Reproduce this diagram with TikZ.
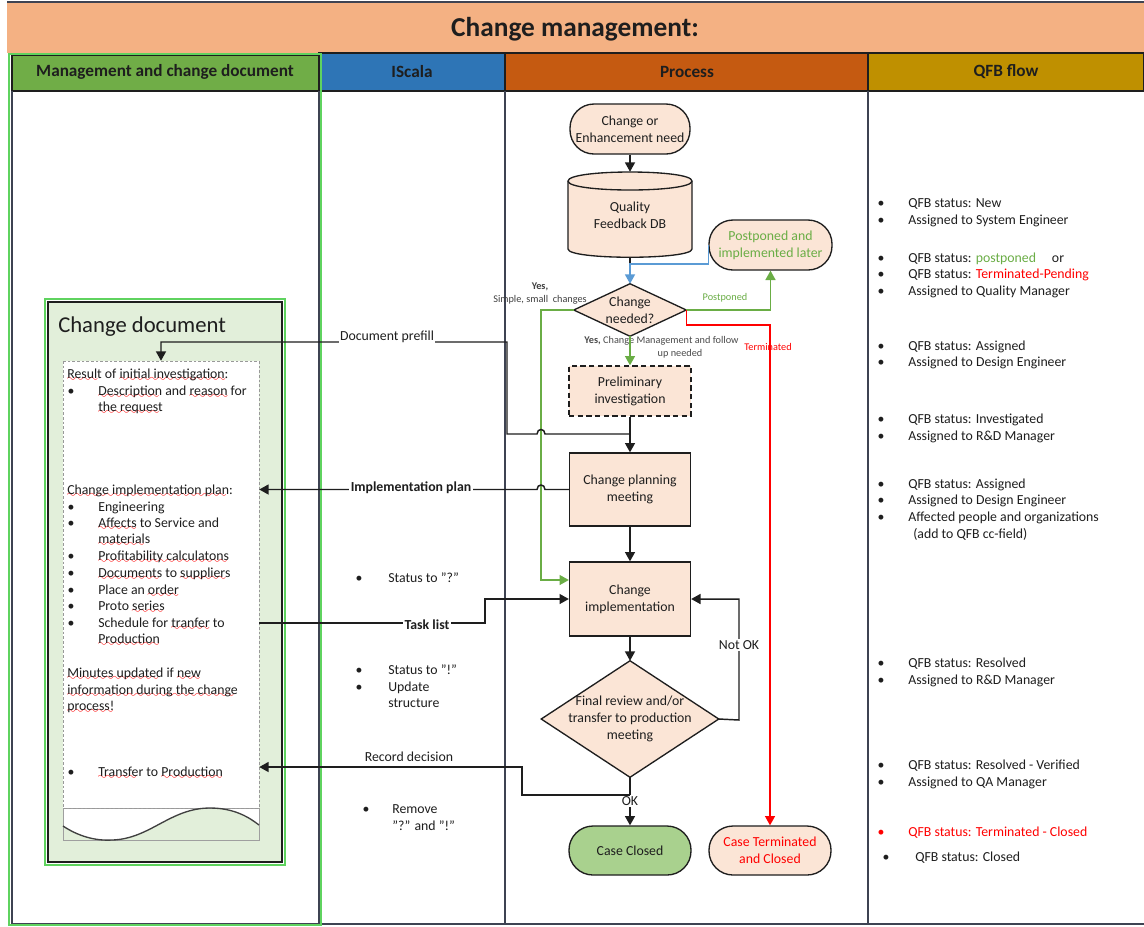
\documentclass[tikz,border=0pt]{standalone}
\usepackage{fontspec}
\setmainfont{Carlito}
\usetikzlibrary{arrows.meta}

\definecolor{salmon}{HTML}{F4B183}
\definecolor{hgreen}{HTML}{70AD47}
\definecolor{hblue}{HTML}{2E75B6}
\definecolor{horange}{HTML}{C55A11}
\definecolor{hgold}{HTML}{BF9000}
\definecolor{peach}{HTML}{FBE5D6}
\definecolor{okgreen}{HTML}{A9D18E}
\definecolor{lgreen}{HTML}{6AAD45}
\definecolor{bgreen}{HTML}{5FD35F}
\definecolor{docgreen}{HTML}{E2EFDA}
\definecolor{lblue}{HTML}{5B9BD5}
\definecolor{colline}{HTML}{3E4352}
\definecolor{ink}{HTML}{1E1E1E}

% red spell-check wave under a word
\font\wavefont=lasy8
\newcommand\sq[1]{\setbox0\hbox{#1}\leavevmode\rlap{\textcolor{red}{\lower2.8pt\hbox to\wd0{\leaders\hbox{\wavefont\char58}\hfill}}}\box0\relax}

\pgfdeclarelayer{bg}
\pgfdeclarelayer{shp}
\pgfsetlayers{bg,shp,main}

% bullet and text line helpers (pixel coordinates, y = baseline)
\newcommand\bulletat[3]{\node[txt,anchor=base] (#1) at (#2,#3) {\textbullet};}
\newcommand\textat[4]{\node[txt,anchor=base west] (#1) at (#2,#3) {#4};}

\begin{document}
\begin{tikzpicture}[x=0.75pt,y=-0.75pt,
  txt/.style={font=\fontsize{10.35}{12.75}\selectfont, text=ink, inner sep=0pt},
  small/.style={font=\fontsize{7.7}{9}\selectfont, inner sep=0pt},
  hdr/.style={font=\bfseries\fontsize{12.9}{15}\selectfont, text=ink},
  proc/.style={draw=ink, fill=peach, line width=1pt, align=center, inner sep=0pt,
    font=\fontsize{10.35}{12.75}\selectfont, text=ink},
  stadium/.style={proc, rounded corners=18pt},
  lbl/.style={font=\fontsize{10.35}{12.75}\selectfont, text=ink, fill=white, inner sep=1pt},
  conn/.style={draw=ink, line width=1.1pt},
  arr/.style={conn, -{Triangle[length=7pt,width=7.5pt]}},
  garr/.style={draw=lgreen, line width=1.1pt, -{Triangle[length=7pt,width=7.5pt]}},
  rarr/.style={draw=red, line width=1.1pt, -{Triangle[length=7pt,width=7.5pt]}},
  barr/.style={draw=lblue, line width=1.1pt, -{Triangle[length=7pt,width=7.5pt]}},
]
\useasboundingbox (0,0) rectangle (1144,926);

% ---------- swimlane frame ----------
\begin{pgfonlayer}{bg}
  \fill[white] (0,0) rectangle (1144,926);
  \fill[salmon] (7,3) rectangle (1144,53);
  \draw[colline, line width=1.5pt] (7,2) -- (1144,2);
  \draw[ink, line width=0.8pt, fill=hgreen] (12,55) rectangle (319,91);
  \draw[ink, line width=0.8pt, fill=hblue] (319,53) rectangle (505,91);
  \draw[ink, line width=0.8pt, fill=horange] (505,53) rectangle (868,91);
  \draw[ink, line width=0.8pt, fill=hgold] (868,53) rectangle (1144,91);
  \draw[colline, line width=1pt] (12,91) -- (12,924) -- (1144,924);
  \draw[colline, line width=1pt] (319,91) -- (319,924);
  \draw[colline, line width=1pt] (505,91) -- (505,924);
  \draw[colline, line width=1pt] (868,91) -- (868,924);
  \draw[bgreen, line width=1.6pt] (9,54) rectangle (321,925);
\end{pgfonlayer}

\node (title) [font=\bfseries\fontsize{20.5}{24}\selectfont, text=ink] at (575,29) {Change management:};
\node (hmgmt) [hdr] at (165,72) {Management and change document};
\node (hisc) [hdr] at (412,72) {IScala};
\node (hproc) [hdr] at (687,72) {Process};
\node (hqfb) [hdr] at (1006,72) {QFB flow};

% ---------- change document ----------
\node (docframe) [draw=ink, line width=1.2pt, fill=docgreen, minimum width=175.5pt,
  minimum height=420pt, inner sep=0pt] at (165,582) {};
\draw[bgreen, line width=1.3pt] ([shift={(-1.6pt,1.6pt)}]docframe.north west)
  rectangle ([shift={(1.6pt,-1.6pt)}]docframe.south east);
\node (doctitle) [font=\fontsize{17}{20}\selectfont, text=ink, anchor=base west, inner sep=0pt]
  at (58,332) {Change document};

\fill[white] (63,361) -- (259,361) -- (259,825)
  .. controls (250,818) and (235,808) .. (210,808)
  .. controls (170,808) and (150,839) .. (112,840)
  .. controls (95,841) and (78,836) .. (63,826) -- cycle;
\draw[gray!75, line width=0.6pt] (63,808) rectangle (259,840);
\draw[gray!80, line width=0.6pt, dash pattern=on 2pt off 1.5pt] (63,361) rectangle (259,808);
\draw[ink!85, line width=1pt] (63,826) .. controls (78,836) and (95,841) .. (112,840)
  .. controls (150,839) and (170,808) .. (210,808)
  .. controls (235,808) and (250,818) .. (259,825);
\node (doc) [minimum width=147pt, minimum height=359.25pt, inner sep=0pt] at (161,600.5) {};

\textat{d1}{67}{378}{\sq{Result} of \sq{initial investigation:}}
\bulletat{d2b}{71}{395}\textat{d2}{98}{395}{\sq{Description} and \sq{reason} for}
\textat{d3}{98}{411}{\sq{the request}}
\textat{d4}{67}{494}{\sq{Change implementation plan:}}
\bulletat{d5b}{71}{511}\textat{d5}{98}{511}{Engineering}
\bulletat{d6b}{71}{527}\textat{d6}{98}{527}{\sq{Affects} to Service and}
\textat{d7}{98}{543}{\sq{materials}}
\bulletat{d8b}{71}{560}\textat{d8}{98}{560}{\sq{Profitability calculatons}}
\bulletat{d9b}{71}{577}\textat{d9}{98}{577}{\sq{Documents} to \sq{suppliers}}
\bulletat{d10b}{71}{594}\textat{d10}{98}{594}{Place an \sq{order}}
\bulletat{d11b}{71}{610}\textat{d11}{98}{610}{Proto \sq{series}}
\bulletat{d12b}{71}{627}\textat{d12}{98}{627}{Schedule for \sq{tranfer} to}
\textat{d13}{98}{643}{\sq{Production}}
\textat{d14}{67}{677}{\sq{Minutes updated} if \sq{new}}
\textat{d15}{67}{694}{\sq{information during the change}}
\textat{d16}{67}{710}{\sq{process!}}
\bulletat{d17b}{71}{776}\textat{d17}{98}{776}{\sq{Transfer} to \sq{Production}}

% ---------- IScala notes ----------
\bulletat{i1b}{359}{582}\textat{i1}{388}{582}{Status to ”?”}
\bulletat{i2b}{359}{674}\textat{i2}{388}{674}{Status to ”!”}
\bulletat{i3b}{359}{691}\textat{i3}{388}{691}{Update}
\textat{i4}{388}{707}{structure}
\bulletat{i5b}{366}{813}\textat{i5}{392}{813}{Remove}
\textat{i6}{392}{830}{”?” and ”!”}

% ---------- process nodes ----------
\node (start) [stadium, minimum width=90pt, minimum height=37.5pt] at (630,129)
  {Change or\\Enhancement need};
\node (db) [align=center, inner sep=0pt, minimum width=93pt, minimum height=64.5pt,
  font=\fontsize{10.35}{12.75}\selectfont, text=ink] at (630,215) {Quality\\Feedback DB};
\node (dia1) [align=center, inner sep=0pt, minimum width=84pt, minimum height=39pt,
  font=\fontsize{10.35}{12.75}\selectfont, text=ink] at (630,310) {Change\\needed?};
\node (post) [stadium, text=lgreen, minimum width=92.25pt, minimum height=37.5pt] at (770.5,245)
  {Postponed and\\implemented later};
\node (prelim) [proc, dashed, dash pattern=on 4pt off 2.5pt, minimum width=91.5pt,
  minimum height=37.5pt] at (630,391) {Preliminary\\investigation};
\node (plan) [proc, minimum width=90.75pt, minimum height=54.75pt] at (630,489.5)
  {Change planning\\meeting};
\node (impl) [proc, minimum width=90.75pt, minimum height=55.5pt] at (630,599)
  {Change\\implementation};
\node (dia2) [align=center, inner sep=0pt, minimum width=132.75pt, minimum height=87pt,
  font=\fontsize{10.35}{12.75}\selectfont, text=ink] at (630,719)
  {Final review and/or\\transfer to production\\meeting};
\node (closed) [stadium, fill=okgreen, minimum width=91.5pt, minimum height=36.75pt] at (630,850.5)
  {Case Closed};
\node (term) [stadium, text=red, minimum width=91.5pt, minimum height=36.75pt] at (770,850.5)
  {Case Terminated\\and Closed};

\begin{pgfonlayer}{shp}
  \filldraw[fill=peach, draw=ink, line width=1pt]
    (568,181) .. controls (568,169) and (692,169) .. (692,181) -- (692,249)
    .. controls (692,260) and (568,260) .. (568,249) -- cycle;
  \draw[ink, line width=1pt] (568,181) .. controls (568,193) and (692,193) .. (692,181);
  \filldraw[fill=peach, draw=ink, line width=1pt]
    (dia1.north) -- (dia1.east) -- (dia1.south) -- (dia1.west) -- cycle;
  \filldraw[fill=peach, draw=ink, line width=1pt]
    (dia2.north) -- (dia2.east) -- (dia2.south) -- (dia2.west) -- cycle;
\end{pgfonlayer}

% ---------- connectors ----------
\coordinate (bj) at (630,264);
\coordinate (pj) at (630,434);
\coordinate (pb) at (507,434);
\coordinate (pt) at (507,342);
\coordinate (sg) at (541,580);
\coordinate (tk) at (485,623);
\coordinate (nk) at (739,720);
\coordinate (rj) at (630,795);
\coordinate (rb) at (522,795);
\coordinate (rc) at (522,767);

\draw[arr] (start.south) -- (db.north);
\draw[conn] (db.south) -- (bj);
\draw[barr] (post.west) |- (bj) -- (dia1.north);
\draw[garr] (dia1.east) -- (post.south |- dia1.east) -- (post.south);
\draw[rarr] (dia1.east) -- ++(0,15) -| (term.north);
\draw[garr] (dia1.west) -| (sg) -- (impl.west |- sg);

\node (ycm1) [small, text=ink!80] at (661.5,341) {\textbf{Yes,} Change Management and follow};
\node (ycm2) [small, text=ink!80] at (680,354) {up needed};
\draw[garr] (dia1.south) -- (prelim.north);
\draw[arr] (prelim.south) -- (plan.north);
\draw[arr] (plan.south) -- (impl.north);
\draw[arr] (impl.south) -- (dia2.north);
\draw[arr] (dia2.south) -- (closed.north);
\draw[arr] (dia2.east) -- (nk) |- (impl.east);

\node (lpost) [small, text=lgreen] at (725,298) {Postponed};
\node (lterm) [small, text=red] at (768,347) {Terminated};
\node (lyes) [small, text=ink!85] at (540,287) {\textbf{Yes,}};
\node (lsimple) [small, text=ink!85] at (540,300) {Simple, small\ \ changes};
\node (lnok) [lbl] at (739,645) {Not OK};
\node (lok) [lbl] at (630,801) {OK};

% links to the change document
\draw[arr] (pj) -- (545,434) .. controls (545,428) and (537,428) .. (537,434) -- (pb) -- (pt)
  -- (doc.north |- pt) -- (doc.north);
\node (lprefill) [lbl] at (387,337) {Document prefill};

\draw[arr] (plan.west) -- (545,489.5) .. controls (545,483.5) and (537,483.5) .. (537,489.5)
  -- (doc.east |- plan.west);
\node (lplan) [lbl, font=\bfseries\fontsize{10.35}{12.75}\selectfont] at (411,488) {Implementation plan};

\draw[arr] (doc.east |- tk) -- (tk) |- (impl.west);
\node (ltask) [lbl, font=\bfseries\fontsize{10.35}{12.75}\selectfont] at (427,625) {Task list};

\draw[arr] (rj) -- (rb) -- (rc) -- (doc.east |- rc);
\node (lrec) [txt] at (409,757) {Record decision};

% ---------- QFB flow ----------
\bulletat{q1b}{881}{207}\textat{q1}{908}{207}{QFB status: New}
\bulletat{q2b}{881}{224}\textat{q2}{908}{224}{Assigned to System Engineer}
\bulletat{q3b}{881}{262}\textat{q3}{908}{262}{QFB status: \textcolor{lgreen}{postponed}\hspace{1.15em}or}
\bulletat{q4b}{881}{278}\textat{q4}{908}{278}{QFB status: \textcolor{red}{Terminated-Pending}}
\bulletat{q5b}{881}{295}\textat{q5}{908}{295}{Assigned to Quality Manager}
\bulletat{q6b}{881}{350}\textat{q6}{908}{350}{QFB status: Assigned}
\bulletat{q7b}{881}{366}\textat{q7}{908}{366}{Assigned to Design Engineer}
\bulletat{q8b}{881}{423}\textat{q8}{908}{423}{QFB status: Investigated}
\bulletat{q9b}{881}{440}\textat{q9}{908}{440}{Assigned to R\&D Manager}
\bulletat{q10b}{881}{488}\textat{q10}{908}{488}{QFB status: Assigned}
\bulletat{q11b}{881}{504}\textat{q11}{908}{504}{Assigned to Design Engineer}
\bulletat{q12b}{881}{521}\textat{q12}{908}{521}{Affected people and organizations}
\textat{q13}{913}{538}{(add to QFB cc-field)}
\bulletat{q14b}{881}{667}\textat{q14}{908}{667}{QFB status: Resolved}
\bulletat{q15b}{881}{684}\textat{q15}{908}{684}{Assigned to R\&D Manager}
\bulletat{q16b}{881}{769}\textat{q16}{908}{769}{QFB status: Resolved - Verified}
\bulletat{q17b}{881}{786}\textat{q17}{908}{786}{Assigned to QA Manager}
\node[txt, anchor=base, text=red] (q18b) at (881,836) {\textbullet};
\node[txt, anchor=base west, text=red] (q18) at (908,836) {QFB status: Terminated - Closed};
\bulletat{q19b}{886}{861}\textat{q19}{915}{861}{QFB status: Closed}

\end{tikzpicture}
\end{document}
